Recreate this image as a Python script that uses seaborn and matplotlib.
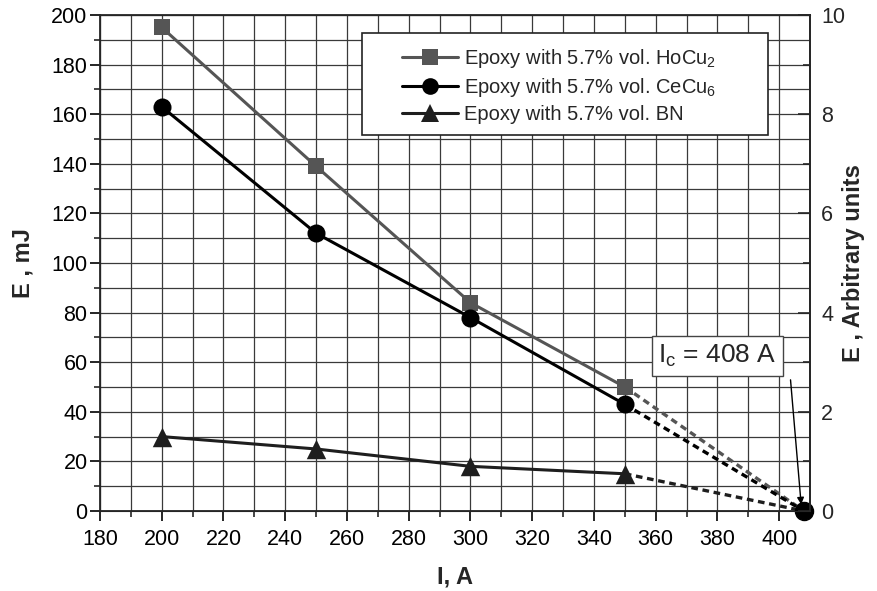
import numpy as np
import pandas as pd
import matplotlib
matplotlib.use("Agg")
import matplotlib.pyplot as plt
from matplotlib.ticker import MultipleLocator
from matplotlib.patches import Rectangle
import seaborn as sns

# data
current = [200, 250, 300, 350]
e_hocu2 = [195, 139, 84, 50]
e_cecu6 = [163, 112, 78, 43]
e_bn = [30, 25, 18, 15]
i_c = 408

labels = ["Epoxy with 5.7% vol. HoCu$_2$",
          "Epoxy with 5.7% vol. CeCu$_6$",
          "Epoxy with 5.7% vol. BN"]
colors = ["#555555", "#000000", "#1e1e1e"]
markers = ["s", "o", "^"]
msizes = [12, 13, 14]

df = pd.DataFrame({
    "I": current * 3,
    "E": e_hocu2 + e_cecu6 + e_bn,
    "sample": np.repeat(labels, len(current)),
})

sns.set_style("ticks")
plt.rcParams["font.family"] = ["Liberation Sans", "DejaVu Sans"]
plt.rcParams["mathtext.fontset"] = "custom"
plt.rcParams["mathtext.rm"] = "Liberation Sans"
plt.rcParams["mathtext.it"] = "Liberation Sans:italic"
plt.rcParams["mathtext.bf"] = "Liberation Sans:bold"

fig = plt.figure(figsize=(8.78, 5.91), dpi=100)
ax = fig.add_axes([0.1139, 0.1354, 0.8087, 0.8392])

sns.lineplot(data=df, x="I", y="E", hue="sample", style="sample",
             palette=colors, markers=markers, dashes=False,
             markersize=0, linewidth=2.2,
             ax=ax, legend=False, zorder=3)
# markers drawn per series so each can keep its own size
for ys, c, m, s in zip([e_hocu2, e_cecu6, e_bn], colors, markers, msizes):
    sns.scatterplot(x=current, y=ys, color=c, marker=m, s=s ** 2,
                    linewidth=0, ax=ax, zorder=4)

# dashed extrapolation to the critical current
for ys, c in zip([e_hocu2, e_cecu6, e_bn], colors):
    ax.plot([current[-1], i_c], [ys[-1], 0], color=c, lw=2.4,
            ls=(0, (2.0, 1.4)), zorder=2)
ax.plot([i_c], [0], "o", color="black", ms=13, zorder=4, clip_on=False)

ax.set_xlim(180, 410)
ax.set_ylim(0, 200)
ax.xaxis.set_major_locator(MultipleLocator(20))
ax.xaxis.set_minor_locator(MultipleLocator(10))
ax.yaxis.set_major_locator(MultipleLocator(20))
ax.yaxis.set_minor_locator(MultipleLocator(10))
ax.grid(True, which="both", color="#3a3a3a", lw=0.9, zorder=0)
ax.tick_params(which="major", direction="out", length=7, width=1.2,
               labelsize=15.5, colors="black", pad=2)
ax.tick_params(which="minor", direction="out", length=4, width=1.2)
ax.tick_params(axis="x", pad=6)
for s in ax.spines.values():
    s.set_linewidth(1.3)
    s.set_visible(True)

ax.set_xlabel("I, A", fontsize=17, fontweight="bold", labelpad=11)
ax.set_ylabel("E , mJ", fontsize=17, fontweight="bold", labelpad=12)

ax2 = ax.twinx()
ax2.set_ylim(0, 10)
ax2.yaxis.set_major_locator(MultipleLocator(2))
ax2.yaxis.set_minor_locator(MultipleLocator(1))
ax2.tick_params(which="major", direction="in", length=9, width=1.2,
                labelsize=15.5, pad=8)
ax2.tick_params(which="minor", direction="in", length=5, width=1.2)
ax2.set_ylabel("E , Arbitrary units", fontsize=17, fontweight="bold",
               labelpad=-2)
ax2.spines["right"].set_linewidth(1.3)

# legend: box drawn separately for the wide side padding
ax.add_patch(Rectangle((0.369, 0.7586), 0.572, 0.2052,
                       transform=ax.transAxes, facecolor="white",
                       edgecolor="#222222", lw=1.2, zorder=5))
handles = [plt.Line2D([], [], color=c, marker=m, ms=s - 1, mew=0, lw=2.2)
           for c, m, s in zip(colors, markers, msizes)]
ax.legend(handles, labels, loc="upper left",
          bbox_to_anchor=(0.4254, 0.935), frameon=False, fontsize=14.5,
          borderpad=0, borderaxespad=0, handlelength=2.8,
          handletextpad=0.3, labelspacing=0.3).set_zorder(6)

# critical current annotation
ax.annotate("", xy=(407.2, 1.5), xytext=(403.6, 54),
            arrowprops=dict(arrowstyle="-|>", color="black", lw=1,
                            mutation_scale=10), zorder=6)
ax.text(380.0, 62.5, "I$_\\mathrm{c}$ = 408 A", fontsize=19,
        ha="center", va="center", zorder=7,
        bbox=dict(boxstyle="square,pad=0.25", fc="white", ec="#444444",
                  lw=1))

fig.savefig("out.png", dpi=100)
